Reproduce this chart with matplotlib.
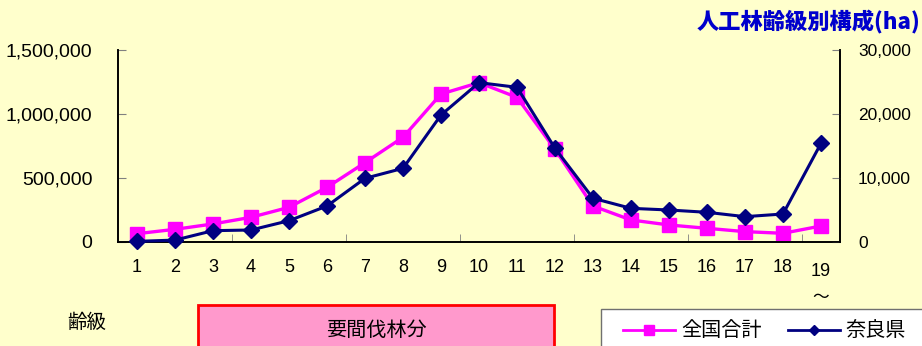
import matplotlib
matplotlib.use("Agg")
import matplotlib.pyplot as plt
from matplotlib.patches import Rectangle
from matplotlib.lines import Line2D
from matplotlib.ticker import FuncFormatter

plt.rcParams['font.family'] = ['Noto Sans CJK JP', 'DejaVu Sans']
NUMF = ['Liberation Sans', 'DejaVu Sans']
NARROW = ['Liberation Sans Narrow', 'Liberation Sans', 'DejaVu Sans']

age_classes = [str(i) for i in range(1, 19)] + ["19"]
national_total = [65000, 99000, 141000, 193000, 271000, 427000, 620000, 818000,
                  1156000, 1245000, 1130000, 724000, 281000, 172000, 133000,
                  107000, 81000, 68000, 125000]
nara = [100, 300, 1770, 1875, 3330, 5625, 9950, 11510, 19840, 24900, 24170,
        14640, 6830, 5260, 5000, 4640, 3960, 4375, 15420]
left_ticks = [0, 500000, 1000000, 1500000]
right_ticks = [0, 10000, 20000, 30000]

W, H = 922, 346
BG = '#FFFFCC'
fig = plt.figure(figsize=(W / 100, H / 100), dpi=100, facecolor=BG)

ax = fig.add_axes([118 / W, (H - 242) / H, (840 - 118) / W, 192 / H])
ax.set_facecolor(BG)
ax2 = ax.twinx()

x = list(range(len(age_classes)))
ax.plot(x, national_total, color='#FF00FF', lw=2.4, marker='s', markersize=10,
        zorder=3, clip_on=False)
ax2.plot(x, nara, color='#000080', lw=2.2, marker='D', markersize=8.5,
         zorder=4, clip_on=False)

ax.set_xlim(-0.5, len(x) - 0.5)
ax.set_ylim(0, 1500000)
ax2.set_ylim(0, 30000)
ax.set_yticks(left_ticks)
ax2.set_yticks(right_ticks)
fmt = FuncFormatter(lambda v, p: f"{int(v):,}")
ax.yaxis.set_major_formatter(fmt)
ax2.yaxis.set_major_formatter(fmt)

ax.set_xticks(x)
ax.set_xticklabels([])
ax.set_xticks([2.5, 5.5, 8.5, 11.5, 14.5, 17.5], minor=True)
ax.tick_params(axis='x', which='major', length=0)
ax.tick_params(axis='x', which='minor', direction='in', length=6, color='#808080')
ax.tick_params(axis='y', direction='in', length=6, color='#808080', pad=18.5)
ax2.tick_params(axis='y', direction='in', length=6, color='#808080', pad=13)

for lbl in ax.get_yticklabels():
    lbl.set_family(NUMF)
    lbl.set_fontsize(14)
for lbl in ax2.get_yticklabels():
    lbl.set_family(NARROW)
    lbl.set_fontsize(12.5)

ax.spines['top'].set_visible(False)
ax2.spines['top'].set_visible(False)
for a in (ax, ax2):
    for s in ['left', 'right', 'bottom']:
        a.spines[s].set_color('black')
        a.spines[s].set_linewidth(1.2)

# category labels
for i, lab in enumerate(age_classes):
    dy = 0 if lab != "19" else -4
    ax.annotate(lab, xy=(i, 0), xycoords='data', xytext=(0, -25 + dy),
                textcoords='offset pixels', ha='center', va='center',
                fontsize=13, family=NARROW)
ax.annotate("～", xy=(len(x) - 1, 0), xycoords='data', xytext=(0, -56),
            textcoords='offset pixels', ha='center', va='center', fontsize=12)

# title
fig.text(920 / W, 1 - 22 / H, "人工林齢級別構成(ha)", ha='right', va='center',
         fontsize=16, fontweight='heavy', color='#0000CC')

# bottom annotations
fig.text(87 / W, 1 - 323 / H, "齢級", ha='center', va='center', fontsize=14)
fig.patches.append(Rectangle((198 / W, -0.1), (554 - 198) / W, 0.1 + (H - 305) / H,
                             transform=fig.transFigure, facecolor='#FF99CC',
                             edgecolor='#FF0000', lw=2, zorder=1))
fig.text(376 / W, 1 - 330 / H, "要間伐林分", ha='center', va='center', fontsize=14.5, zorder=2)

# legend
fig.patches.append(Rectangle((601 / W, -0.1), 0.5, 0.1 + (H - 309) / H,
                             transform=fig.transFigure, facecolor='white',
                             edgecolor='#707070', lw=1, zorder=1))
ly = 1 - 330 / H
fig.lines.append(Line2D([623 / W, 675 / W], [ly, ly], transform=fig.transFigure,
                        color='#FF00FF', lw=2, zorder=2))
fig.lines.append(Line2D([649 / W], [ly], transform=fig.transFigure, marker='s',
                        markersize=6.5, color='#FF00FF', zorder=3))
fig.text(681 / W, ly, "全国合計", ha='left', va='center', fontsize=14.5, zorder=3)
fig.lines.append(Line2D([788 / W, 840 / W], [ly, ly], transform=fig.transFigure,
                        color='#000080', lw=2, zorder=2))
fig.lines.append(Line2D([814 / W], [ly], transform=fig.transFigure, marker='D',
                        markersize=5.5, color='#000080', zorder=3))
fig.text(845 / W, ly, "奈良県", ha='left', va='center', fontsize=14.5, zorder=3)

fig.savefig("out.png", dpi=100, facecolor=BG)
